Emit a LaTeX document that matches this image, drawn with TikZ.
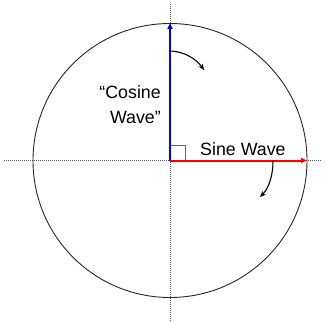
\documentclass[tikz,border=0pt]{standalone}
\usepackage{fontspec}
\setmainfont{Liberation Sans}
\usetikzlibrary{arrows.meta}
\begin{document}
\begin{tikzpicture}[x=1pt,y=-1pt,
  axis/.style={gray!70!black,dash pattern=on 1pt off 1pt,line width=0.7pt},
  vec/.style={line width=2pt,-{Triangle[length=6pt,width=5pt]}},
  turn/.style={line width=1.1pt,-{Stealth[length=6pt,width=5pt]}},
  lbl/.style={inner sep=0pt,font=\fontsize{17.8}{25}\selectfont}]
\useasboundingbox (0,0) rectangle (326,321);
\coordinate (O) at (170,160.5);
\coordinate (L) at (4,160.5);
\coordinate (R) at (322,160.5);
\coordinate (T) at (170,4);
\coordinate (B) at (170,321);
\coordinate (Ctop) at (170,23);
\coordinate (Cright) at (307,160.5);
\draw[axis] (L) -- (R);
\draw[axis] (T) -- (B);
\draw[black!85,line width=0.9pt] (O) circle[radius=137];
\draw[gray!80!black,line width=0.8pt] (170,145) -- (185,145) -- (185,160.5);
\draw[vec,blue] (O) -- (Ctop);
\draw[vec,red] (O) -- (Cright);
\coordinate (a1) at (169,51);
\coordinate (a2) at (204,70);
\draw[turn] (a1) .. controls (185,51) and (197,60) .. (a2);
\coordinate (b1) at (273,161);
\coordinate (b2) at (260,197);
\draw[turn] (b1) .. controls (273,175) and (269,188) .. (b2);
\node[lbl,anchor=base west] (sine) at (200,155) {Sine Wave};
\node[lbl,anchor=base east,align=right] (cos) at (161,123) {“Cosine\\Wave”};
\end{tikzpicture}
\end{document}
